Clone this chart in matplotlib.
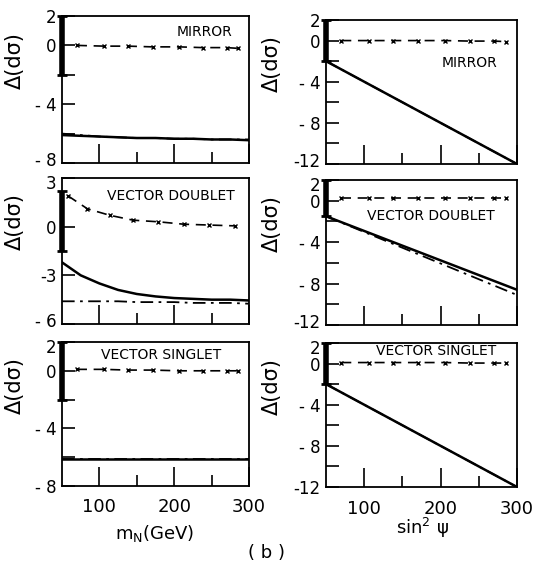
import matplotlib.pyplot as plt
from matplotlib.ticker import FixedLocator
from matplotlib.transforms import ScaledTranslation

plt.rcParams['font.family'] = ['DejaVu Sans']

# ---- data ----
x_line = [50, 75, 100, 125, 150, 175, 200, 225, 250, 275, 300]
x_marks = [70, 106, 138, 171, 206, 238, 270, 285]

# left column: vs m_N
mirror_l_dash = [0.0, -0.05, -0.05, -0.1, -0.1, -0.15, -0.15, -0.2]
mirror_l_solid = [-6.1, -6.15, -6.2, -6.25, -6.3, -6.3, -6.35, -6.35, -6.4, -6.4, -6.45]
mirror_l_dot = [-6.0, -6.1, -6.2, -6.25, -6.3, -6.3, -6.35, -6.35, -6.4, -6.4, -6.4]

vd_marks_x = [58, 84, 114, 145, 179, 213, 247, 281]
vd_l_dash = [1.9, 1.1, 0.7, 0.4, 0.3, 0.15, 0.1, 0.05]
vd_l_solid = [-2.2, -3.0, -3.5, -3.9, -4.15, -4.3, -4.4, -4.45, -4.5, -4.5, -4.55]
vd_l_dot = [-4.6, -4.6, -4.6, -4.6, -4.65, -4.65, -4.65, -4.7, -4.7, -4.7, -4.75]

vs_l_dash = [0.1, 0.1, 0.05, 0.05, 0.0, 0.0, 0.0, 0.0]
vs_l_solid = [-6.1] * 11
vs_l_dot = [-6.1] * 11

# right column: vs sin^2 psi
x_lin = [50, 300]
mirror_r_dash = [0.0, 0.0, 0.0, 0.0, 0.0, -0.05, -0.05, -0.1]
mirror_r_solid = [-2.0, -12.0]
mirror_r_dot = [-2.0, -12.0]

vd_r_dash = [0.3, 0.3, 0.3, 0.3, 0.3, 0.3, 0.3, 0.3]
vd_r_solid = [-1.5, -8.6]
vd_r_dot = [-1.5, -9.1]

vs_r_dash = [0.1, 0.1, 0.1, 0.1, 0.1, 0.05, 0.05, 0.05]
vs_r_solid = [-2.0, -12.0]
vs_r_dot = [-2.0, -12.0]

# error bars at x = 50
bar_l = [(-2.0, 2.0), (-1.5, 2.2), (-2.0, 2.0)]
bar_r = [(-2.0, 2.0), (-1.5, 2.0), (-2.0, 2.0)]

titles = ['MIRROR', 'VECTOR DOUBLET', 'VECTOR SINGLET']
ylims_l = [(-8, 2), (-6, 3), (-8, 2)]
yticks_l = [[2, 0, -4, -8], [3, 0, -3, -6], [2, 0, -4, -8]]
yticklabels_l = [['2', '0', '- 4', '- 8'], ['3', '0', '-3', '- 6'], ['2', '0', '- 4', '- 8']]
yminor_l = [[-2, -6], [], [-2, -6]]
yticks_r = [2, 0, -4, -8, -12]
yticklabels_r = ['2', '0', '- 4', '- 8', '-12']
yminor_r = [-2, -6, -10]
xticks = [100, 200, 300]
xminor = [150, 250]
xticklabels = ['100', '200', '300']

W, H = 534, 573
fig = plt.figure(figsize=(W / 100, H / 100), dpi=100)


def box(x0, x1, y0, y1):
    return [x0 / W, 1 - y1 / H, (x1 - x0) / W, (y1 - y0) / H]


left_boxes = [box(62, 249, 16, 163), box(62, 249, 178, 324), box(62, 249, 342, 486)]
right_boxes = [box(326, 517, 20, 164), box(326, 517, 180, 325), box(326, 517, 343, 487)]
title_pos_l = [(0.76, 0.89), (0.58, 0.88), (0.53, 0.91)]
title_pos_r = [(0.75, 0.70), (0.55, 0.75), (0.575, 0.945)]

left_data = [
    (mirror_l_dash, x_marks, mirror_l_solid, mirror_l_dot),
    (vd_l_dash, vd_marks_x, vd_l_solid, vd_l_dot),
    (vs_l_dash, x_marks, vs_l_solid, vs_l_dot),
]
right_data = [
    (mirror_r_dash, mirror_r_solid, mirror_r_dot),
    (vd_r_dash, vd_r_solid, vd_r_dot),
    (vs_r_dash, vs_r_solid, vs_r_dot),
]


def style(ax, ylim, yt, ytl, ymin, row):
    ax.set_xlim(50, 300)
    ax.set_ylim(*ylim)
    ax.xaxis.set_major_locator(FixedLocator(xticks))
    ax.xaxis.set_minor_locator(FixedLocator(xminor))
    ax.set_yticks(yt)
    ax.set_yticklabels(ytl)
    ax.yaxis.set_minor_locator(FixedLocator(ymin))
    ax.tick_params(which='both', direction='in', width=1.2, top=False, right=False, labelsize=12)
    ax.tick_params(axis='x', which='major', length=14, pad=9, labelsize=13)
    ax.tick_params(axis='x', which='minor', length=8)
    ax.tick_params(axis='y', which='both', length=9, pad=4)
    if row == 2:
        ax.set_xticklabels(xticklabels)
    else:
        ax.set_xticklabels([])
    for s in ax.spines.values():
        s.set_linewidth(1.3)
    ax.set_ylabel('Δ(dσ)', fontsize=15)
    # nudge end labels so neighbouring panels' labels don't collide
    ticks = ax.yaxis.get_major_ticks()
    if row > 0:
        lab = ticks[0].label1
        lab.set_transform(lab.get_transform() + ScaledTranslation(0, -3 / 72, fig.dpi_scale_trans))
    if row < 2:
        lab = ticks[-1].label1
        lab.set_transform(lab.get_transform() + ScaledTranslation(0, 3 / 72, fig.dpi_scale_trans))


for i in range(3):
    # left column
    ax = fig.add_axes(left_boxes[i])
    dash, mx, solid, dot = left_data[i]
    ax.plot(mx, dash, color='black', ls=(0, (6, 4)), lw=1.2, marker='x', ms=3.5, mew=1)
    ax.plot(x_line, dot, color='black', ls=(0, (7, 3, 1.5, 3)), lw=1.3)
    ax.plot(x_line, solid, color='black', lw=1.8)
    ax.plot([50, 50], bar_l[i], color='black', lw=4, solid_capstyle='butt', clip_on=False)
    ax.plot([50, 50], bar_l[i], color='black', ls='none', marker='_', ms=7, mew=2, clip_on=False)
    style(ax, ylims_l[i], yticks_l[i], yticklabels_l[i], yminor_l[i], i)
    ax.yaxis.set_label_coords(-0.2, 0.7)
    ax.text(*title_pos_l[i], titles[i], transform=ax.transAxes, fontsize=10, ha='center', va='center')

    # right column
    ax = fig.add_axes(right_boxes[i])
    dash, solid, dot = right_data[i]
    ax.plot(x_marks, dash, color='black', ls=(0, (6, 4)), lw=1.2, marker='x', ms=3.5, mew=1)
    ax.plot(x_lin, dot, color='black', ls=(0, (7, 3, 1.5, 3)), lw=1.3)
    ax.plot(x_lin, solid, color='black', lw=1.8)
    ax.plot([50, 50], bar_r[i], color='black', lw=4, solid_capstyle='butt', clip_on=False)
    ax.plot([50, 50], bar_r[i], color='black', ls='none', marker='_', ms=7, mew=2, clip_on=False)
    style(ax, (-12, 2), yticks_r, yticklabels_r, yminor_r, i)
    ax.yaxis.set_label_coords(-0.23, 0.7)
    ax.text(*title_pos_r[i], titles[i], transform=ax.transAxes, fontsize=10, ha='center', va='center')

fig.text(155 / W, 1 - 533 / H, r'm$_\mathregular{N}$(GeV)', fontsize=13, ha='center', va='center')
fig.text(423 / W, 1 - 528 / H, r'sin$^\mathregular{2}$ ψ', fontsize=13, ha='center', va='center')
fig.text(267 / W, 1 - 553 / H, '( b )', fontsize=13, ha='center', va='center')

fig.savefig('out.png', dpi=100, facecolor='white')
